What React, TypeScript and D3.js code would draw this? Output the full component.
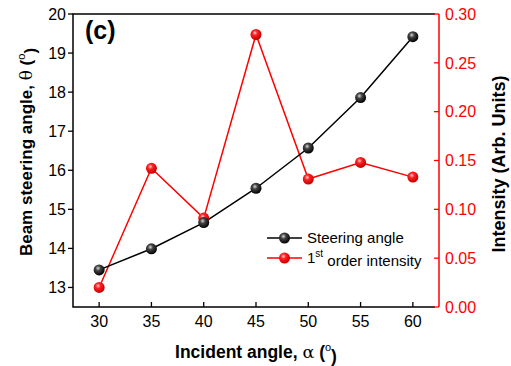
import * as d3 from 'd3';

// incident angle (deg)
const angles = [30, 35, 40, 45, 50, 55, 60];
// beam steering angle (deg)
const steering = [13.45, 13.99, 14.66, 15.54, 16.57, 17.86, 19.42];
// 1st order intensity (arb. units)
const intensity = [0.02, 0.142, 0.091, 0.279, 0.131, 0.148, 0.133];

const xTicks = [30, 35, 40, 45, 50, 55, 60];
const leftTicks = [13, 14, 15, 16, 17, 18, 19, 20];
const rightTicks = [0, 0.05, 0.1, 0.15, 0.2, 0.25, 0.3];

const W = 511;
const H = 366;
const margin = { top: 14, right: 72, bottom: 59, left: 73 };
const FONT = '"Liberation Sans", Arial, sans-serif';

export default function App() {
  const x = d3.scaleLinear().domain([27.5, 62.5]).range([margin.left, W - margin.right]);
  const yL = d3.scaleLinear().domain([12.5, 20]).range([H - margin.bottom, margin.top]);
  const yR = d3.scaleLinear().domain([0, 0.3]).range([H - margin.bottom, margin.top]);

  const top = margin.top;
  const bottom = H - margin.bottom;
  const left = margin.left;
  const axR = W - margin.right;
  const frameR = axR - 4;

  const blackLine = d3.line<number>().x((_, i) => x(angles[i])).y((d) => yL(d));
  const redLine = d3.line<number>().x((_, i) => x(angles[i])).y((d) => yR(d));

  const r = 5.5;

  return (
    <svg width={W} height={H} style={{ position: 'absolute', left: 0, top: 0, fontFamily: FONT }}>
      <defs>
        <radialGradient id="gBlack" cx="40%" cy="35%" r="65%">
          <stop offset="0%" stopColor="#d8d8d8" />
          <stop offset="35%" stopColor="#444" />
          <stop offset="100%" stopColor="#000" />
        </radialGradient>
        <radialGradient id="gRed" cx="40%" cy="35%" r="65%">
          <stop offset="0%" stopColor="#ffd0d0" />
          <stop offset="35%" stopColor="#ff2020" />
          <stop offset="100%" stopColor="#c00000" />
        </radialGradient>
      </defs>
      <rect width={W} height={H} fill="#fff" />

      {/* frame */}
      <path d={`M${frameR},${top}H${left}V${bottom}H${frameR}`} fill="none" stroke="#000" strokeWidth={1.5} />

      {/* left axis ticks (outward) */}
      {leftTicks.map((t) => (
        <g key={'l' + t}>
          <line x1={left - 5} x2={left} y1={yL(t)} y2={yL(t)} stroke="#000" strokeWidth={1.3} />
          <text x={left - 7} y={yL(t)} dy="0.36em" textAnchor="end" fontSize={16} fill="#000">
            {t}
          </text>
        </g>
      ))}

      {/* bottom axis ticks (inward) */}
      {xTicks.map((t) => (
        <g key={'x' + t}>
          <line x1={x(t)} x2={x(t)} y1={bottom} y2={bottom - 5} stroke="#000" strokeWidth={1.3} />
          <text x={x(t)} y={bottom + 20} textAnchor="middle" fontSize={16} fill="#000">
            {t}
          </text>
        </g>
      ))}

      {/* right axis in red */}
      <line x1={axR} x2={axR} y1={top} y2={bottom} stroke="#ff0000" strokeWidth={1.5} />
      {rightTicks.map((t) => (
        <g key={'r' + t}>
          <line x1={axR - 5} x2={axR} y1={yR(t)} y2={yR(t)} stroke="#ff0000" strokeWidth={1.3} />
          <text x={axR + 6} y={yR(t)} dy="0.36em" textAnchor="start" fontSize={16} fill="#ff0000">
            {t.toFixed(2)}
          </text>
        </g>
      ))}

      {/* series */}
      <path d={redLine(intensity) ?? ''} fill="none" stroke="#ff0000" strokeWidth={1.5} />
      <path d={blackLine(steering) ?? ''} fill="none" stroke="#000" strokeWidth={1.5} />
      {intensity.map((d, i) => (
        <circle key={'rc' + i} cx={x(angles[i])} cy={yR(d)} r={r} fill="url(#gRed)" />
      ))}
      {steering.map((d, i) => (
        <circle key={'bc' + i} cx={x(angles[i])} cy={yL(d)} r={r} fill="url(#gBlack)" />
      ))}

      {/* panel label */}
      <text x={85} y={39} fontSize={25} fontWeight="bold" fill="#000">(c)</text>

      {/* legend */}
      <g>
        <line x1={267} x2={302} y1={238} y2={238} stroke="#000" strokeWidth={1.5} />
        <circle cx={284.5} cy={238} r={r} fill="url(#gBlack)" />
        <text x={307} y={238} dy="0.36em" fontSize={15} fill="#000">Steering angle</text>
        <line x1={267} x2={302} y1={258} y2={258} stroke="#ff0000" strokeWidth={1.5} />
        <circle cx={284.5} cy={258} r={r} fill="url(#gRed)" />
        <text x={307} y={258} dy="0.36em" fontSize={15} fill="#000">
          1<tspan fontSize={10} dy="-0.6em">st</tspan>
          <tspan dy="0.6em"> order intensity</tspan>
        </text>
      </g>

      {/* axis titles */}
      <text x={(left + axR) / 2} y={358} textAnchor="middle" fontSize={17.5} fontWeight="bold" fill="#000">
        Incident angle, <tspan fontFamily="'DejaVu Serif', serif" fontWeight="normal">α</tspan> (
        <tspan fontSize={11} fontWeight="normal" dy="-0.6em">o</tspan>
        <tspan dy="0.6em">)</tspan>
      </text>
      <text
        transform={`translate(32,152) rotate(-90)`}
        textAnchor="middle"
        fontSize={17}
        fontWeight="bold"
        fill="#000"
      >
        Beam steering angle, <tspan fontFamily="'DejaVu Serif', serif" fontWeight="normal">θ</tspan> (
        <tspan fontSize={11} fontWeight="normal" dy="-0.6em">o</tspan>
        <tspan dy="0.6em">)</tspan>
      </text>
      <text
        transform={`translate(505,164) rotate(-90)`}
        textAnchor="middle"
        fontSize={18}
        fontWeight="bold"
        fill="#000"
      >
        Intensity (Arb. Units)
      </text>
    </svg>
  );
}
